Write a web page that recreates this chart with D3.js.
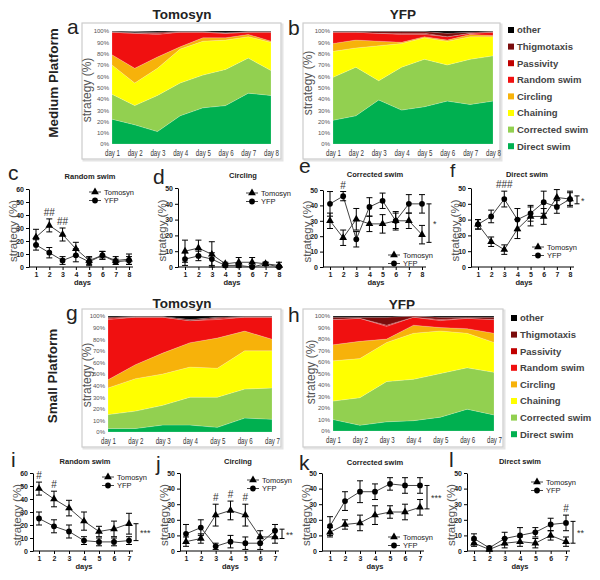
<!DOCTYPE html>
<html>
<head>
<meta charset="UTF-8">
<title>Search strategies</title>
<script src="https://d3js.org/d3.v7.min.js"></script>
<style>
  body { margin: 0; background: #fff; }
  svg { display: block; font-family: "Liberation Sans", Arial, sans-serif; }
</style>
</head>
<body>
<svg id="chart" width="600" height="580"></svg>
<script>
// ---- data ----
const strategies = ["Direct swim", "Corrected swim", "Chaining", "Circling", "Random swim", "Passivity", "Thigmotaxis", "other"];
const stratColors = ["#00b050", "#92d050", "#ffff00", "#f7b20a", "#f01010", "#c00000", "#7a0c0c", "#000000"];

const daysMed = ["day 1", "day 2", "day 3", "day 4", "day 5", "day 6", "day 7", "day 8"];
const daysSmall = ["day 1", "day 2", "day 3", "day 4", "day 5", "day 6", "day 7"];

// stacked percentages, one row per strategy (same order as strategies)
const areaA = [
  [22, 17, 11, 25, 32, 34, 45, 43],
  [22, 17, 32, 29, 29, 32, 31, 22],
  [26, 20, 24, 30, 30, 26, 19, 25],
  [9, 13, 10, 2, 3, 2, 2, 1],
  [20, 31, 20, 13, 5, 4, 2, 8],
  [0, 0, 1, 0, 0, 0, 0, 0],
  [0.5, 0.5, 1, 0.5, 0.5, 0.5, 0.5, 0.5],
  [0.5, 1, 1, 0.5, 0.5, 1.5, 0.5, 0.5]
];
const areaB = [
  [21, 25, 39, 30, 33, 38, 35, 38],
  [38, 43, 17, 38, 42, 32, 40, 40],
  [23, 17, 31, 21, 19, 21, 20, 17],
  [7, 7, 4, 1, 1, 1, 2, 1],
  [10, 7, 7, 7, 2, 3, 1, 3],
  [0, 0, 0, 1, 1, 0, 0, 0],
  [0.5, 0.5, 1.5, 1.5, 1.5, 3, 1, 0.5],
  [0.5, 0.5, 0.5, 0.5, 0.5, 2, 1, 0.5]
];
const areaG = [
  [3, 3, 6, 6, 4, 12, 11],
  [12, 15, 17, 24, 26, 25, 27],
  [23, 28, 27, 26, 25, 33, 32],
  [7, 12, 18, 21, 26, 17, 10],
  [52, 41, 31, 19, 16, 12, 19],
  [1, 0, 0, 0, 1, 0, 0],
  [1, 0.5, 0.5, 1, 1, 0.5, 0.5],
  [1, 0.5, 0.5, 3, 1, 0.5, 0.5]
];
const areaH = [
  [10, 5, 8, 9, 12, 19, 14],
  [16, 24, 35, 36, 38, 36, 37],
  [35, 34, 34, 40, 37, 30, 26],
  [14, 15, 3, 7, 3, 4, 8],
  [22, 20, 11, 7, 6, 9, 12],
  [0, 0, 1, 0, 1, 0, 0],
  [2, 1, 7, 1, 2, 1, 2],
  [1, 1, 1, 0, 1, 1, 1]
];

// line panels: mean and error (strategy %)
const dayNumMed = [1, 2, 3, 4, 5, 6, 7, 8];
const dayNumSmall = [1, 2, 3, 4, 5, 6, 7];

const cTomo = [23, 32, 25, 14, 5, 9, 5, 6], cTomoErr = [6, 5, 5, 5, 3, 3, 3, 4];
const cYfp = [17, 11, 5, 9, 4, 9, 4, 5], cYfpErr = [4, 4, 3, 5, 3, 3, 2, 3];
const cHash = ["", "##", "##", "", "", "", "", ""];

const dTomo = [10, 12, 8, 2, 3, 3, 2, 1], dTomoErr = [7, 5, 8, 1, 3, 3, 1, 2];
const dYfp = [5, 7, 5, 1, 1, 0, 2, 0], dYfpErr = [4, 3, 4, 1, 1, 1, 1, 1];
const dHash = ["", "", "", "", "", "", "", ""];

const eTomo = [30, 19, 31, 28, 28, 30, 30, 21], eTomoErr = [5, 5, 7, 5, 6, 5, 5, 6];
const eYfp = [41, 46, 18, 39, 43, 30, 41, 41], eYfpErr = [8, 3, 5, 6, 5, 6, 6, 6];
const eHash = ["", "#", "", "", "", "", "", ""];
const eSig = [41, 16], eSigLabel = "*";

const fTomo = [27, 16, 11, 24, 32, 32, 44, 43], fTomoErr = [3, 3, 3, 6, 6, 5, 5, 5];
const fYfp = [27, 32, 43, 30, 34, 41, 38, 43], fYfpErr = [3, 4, 5, 7, 5, 7, 4, 4];
const fHash = ["", "", "###", "", "", "", "", ""];
const fSig = [45, 40], fSigLabel = "*";

const iTomo = [48, 40, 33, 23, 15, 17, 21], iTomoErr = [5, 6, 6, 7, 4, 6, 8];
const iYfp = [25, 19, 15, 8, 7, 7, 8], iYfpErr = [5, 5, 5, 3, 3, 3, 3];
const iHash = ["#", "#", "", "", "", "", ""];
const iSig = [21, 8], iSigLabel = "***";

const jTomo = [6, 8, 23, 26, 23, 9, 9], jTomoErr = [3, 3, 7, 6, 7, 4, 4];
const jYfp = [11, 15, 3, 6, 5, 5, 13], jYfpErr = [6, 5, 2, 4, 4, 4, 4];
const jHash = ["", "", "#", "#", "#", "", ""];
const jSig = [14, 8], jSigLabel = "**";

const kTomo = [12, 17, 18, 23, 25, 25, 28], kTomoErr = [3, 3, 5, 6, 4, 5, 5];
const kYfp = [16, 32, 38, 38, 43, 42, 42], kYfpErr = [6, 6, 7, 5, 4, 5, 5];
const kHash = ["", "", "", "", "", "", ""];
const kSig = [42, 27], kSigLabel = "***";

const lTomo = [5, 1, 5, 6, 5, 10, 6], lTomoErr = [2, 1, 3, 3, 3, 3, 3];
const lYfp = [8, 2, 8, 10, 12, 17, 18], lYfpErr = [3, 1, 4, 5, 3, 4, 5];
const lHash = ["", "", "", "", "", "", "#"];
const lSig = [19, 5], lSigLabel = "**";

const seriesNames = ["Tomosyn", "YFP"];

// ---- drawing ----
const svg = d3.select("#chart");

function areaPanel(o) {
  const g = svg.append("g");
  // frame with a soft shadow
  g.append("rect")
    .attr("x", o.fx0 + 1.5).attr("y", o.fy0 + 1.5)
    .attr("width", o.fx1 - o.fx0).attr("height", o.fy1 - o.fy0)
    .attr("fill", "none").attr("stroke", "#e4e4e4").attr("stroke-width", 2);
  g.append("rect")
    .attr("x", o.fx0).attr("y", o.fy0)
    .attr("width", o.fx1 - o.fx0).attr("height", o.fy1 - o.fy0)
    .attr("fill", "#fff").attr("stroke", "#cccccc").attr("stroke-width", 1.2);

  const x = d3.scalePoint().domain(o.days).range([o.x0, o.x1]);
  const y = d3.scaleLinear().domain([0, 100]).range([o.y1, o.y0]);

  const rows = o.days.map((d, i) => {
    const r = { day: d };
    strategies.forEach((s, k) => r[s] = o.vals[k][i]);
    return r;
  });
  const stacked = d3.stack().keys(strategies)(rows);
  const area = d3.area()
    .x(d => x(d.data.day))
    .y0(d => y(Math.min(100, d[0])))
    .y1(d => y(Math.min(100, d[1])));

  g.selectAll(".band")
    .data(stacked)
    .join("path")
    .attr("class", "band")
    .attr("d", area)
    .attr("fill", (d, i) => stratColors[i])
    .attr("stroke", "rgba(255,255,255,0.35)")
    .attr("stroke-width", 0.5);

  const yAxis = d3.axisLeft(y).tickValues(d3.range(0, 101, 10)).tickFormat(d => d + "%").tickSize(0).tickPadding(3);
  g.append("g")
    .attr("transform", "translate(" + o.x0 + ",0)")
    .call(yAxis)
    .call(a => a.select(".domain").remove())
    .selectAll("text")
    .attr("font-size", 6).attr("fill", "#555").attr("font-family", "Liberation Sans, sans-serif");

  // condensed day labels
  const xAxis = d3.axisBottom(x).tickSize(0).tickPadding(0);
  g.append("g")
    .attr("transform", "translate(0," + (o.y1 + 6) + ")")
    .call(xAxis)
    .call(a => a.select(".domain").remove())
    .selectAll("text")
    .attr("font-size", 8.5).attr("fill", "#333")
    .attr("textLength", 15).attr("lengthAdjust", "spacingAndGlyphs");

  g.append("text")
    .attr("transform", "translate(" + o.ylx + "," + o.yly + ") rotate(-90)")
    .attr("text-anchor", "middle").attr("font-size", 12).attr("fill", "#555")
    .text("strategy (%)");

  svg.append("text").attr("x", o.tx).attr("y", o.ty)
    .attr("text-anchor", "middle").attr("font-size", 13.5).attr("font-weight", "bold").attr("fill", "#222")
    .text(o.title);
  svg.append("text").attr("x", o.lx).attr("y", o.ly)
    .attr("font-size", 21).attr("fill", "#222").text(o.letter);
}

function legendBlock(x0, yStart) {
  const items = strategies.slice().reverse();
  const cols = stratColors.slice().reverse();
  const lg = svg.append("g");
  items.forEach((s, i) => {
    const yy = yStart + i * 16.6;
    lg.append("rect").attr("x", x0).attr("y", yy - 3).attr("width", 6).attr("height", 6).attr("fill", cols[i]);
    lg.append("text").attr("x", x0 + 9).attr("y", yy + 3.3)
      .attr("font-size", 9.5).attr("font-weight", "bold").attr("fill", "#444").text(s);
  });
}

function linePanel(o) {
  const g = svg.append("g");
  const n = o.days.length;
  const x = d3.scaleLinear().domain([1, n]).range([o.x0, o.x1]);
  const y = d3.scaleLinear().domain([0, o.yMax]).range([o.yb, o.yt]);

  g.append("g")
    .attr("transform", "translate(" + o.ax + ",0)")
    .call(d3.axisLeft(y).tickValues(d3.range(0, o.yMax + 1, 10)).tickSize(3).tickSizeOuter(0).tickPadding(2))
    .call(a => a.selectAll("text").attr("font-size", 7).attr("font-weight", "bold").attr("fill", "#222"));

  g.append("g")
    .attr("transform", "translate(0," + o.yb + ")")
    .call(d3.axisBottom(x).tickValues(o.days).tickFormat(d3.format("d")).tickSize(3).tickPadding(2))
    .call(a => a.select(".domain").remove())
    .call(a => a.selectAll("text").attr("font-size", 7).attr("font-weight", "bold").attr("fill", "#222"));
  g.append("line")
    .attr("x1", o.ax).attr("x2", o.x1 + 4).attr("y1", o.yb).attr("y2", o.yb)
    .attr("stroke", "#000");

  const series = [
    { v: o.tomo, e: o.tomoErr, sym: d3.symbolTriangle, size: 26 },
    { v: o.yfp, e: o.yfpErr, sym: d3.symbolCircle, size: 26 }
  ];
  const line = d3.line().x((d, i) => x(o.days[i])).y(d => y(d));

  series.forEach(s => {
    g.append("path").datum(s.v).attr("d", line)
      .attr("fill", "none").attr("stroke", "#444").attr("stroke-width", 1);
    s.v.forEach((v, i) => {
      const cx = x(o.days[i]);
      const lo = y(Math.max(0, v - s.e[i])), hi = y(v + s.e[i]);
      g.append("line").attr("x1", cx).attr("x2", cx).attr("y1", lo).attr("y2", hi).attr("stroke", "#000");
      [lo, hi].forEach(yy => g.append("line")
        .attr("x1", cx - 3).attr("x2", cx + 3).attr("y1", yy).attr("y2", yy).attr("stroke", "#000"));
      g.append("path").attr("d", d3.symbol(s.sym, s.size)())
        .attr("transform", "translate(" + cx + "," + y(v) + ")").attr("fill", "#000");
    });
  });

  // # marks above the higher error bar
  o.hash.forEach((h, i) => {
    if (!h) return;
    const top = Math.max(o.tomo[i] + o.tomoErr[i], o.yfp[i] + o.yfpErr[i]);
    g.append("text").attr("x", x(o.days[i])).attr("y", y(top) - 3)
      .attr("text-anchor", "middle").attr("font-size", 10).attr("fill", "#333").text(h);
  });

  // significance bracket after last day
  if (o.sig) {
    const bx = x(o.days[n - 1]) + 7;
    const ya = y(o.sig[0]), yb2 = y(o.sig[1]);
    g.append("line").attr("x1", bx).attr("x2", bx).attr("y1", ya).attr("y2", yb2).attr("stroke", "#000");
    [ya, yb2].forEach(yy => g.append("line")
      .attr("x1", bx - 2.5).attr("x2", bx + 2.5).attr("y1", yy).attr("y2", yy).attr("stroke", "#000"));
    g.append("text").attr("x", bx + 4).attr("y", (ya + yb2) / 2 + 4)
      .attr("font-size", 9).attr("fill", "#333").text(o.sigLabel);
  }

  // legend
  series.forEach((s, k) => {
    const yy = o.legY + k * 8.5;
    g.append("line").attr("x1", o.legX - 6).attr("x2", o.legX + 6).attr("y1", yy).attr("y2", yy)
      .attr("stroke", "#444");
    g.append("path").attr("d", d3.symbol(s.sym, s.size)())
      .attr("transform", "translate(" + o.legX + "," + yy + ")").attr("fill", "#000");
    g.append("text").attr("x", o.legX + 9).attr("y", yy + 2.8)
      .attr("font-size", 7.5).attr("fill", "#222").text(seriesNames[k]);
  });

  g.append("text").attr("x", o.tx).attr("y", o.ty)
    .attr("text-anchor", "middle").attr("font-size", 7.5).attr("font-weight", "bold").attr("fill", "#222")
    .text(o.title);
  g.append("text").attr("x", (o.x0 + o.x1) / 2).attr("y", o.yb + 18)
    .attr("text-anchor", "middle").attr("font-size", 7.5).attr("font-weight", "bold").attr("fill", "#222")
    .text("days");
  g.append("text")
    .attr("transform", "translate(" + (o.ax - 12) + "," + ((o.yt + o.yb) / 2 + 3) + ") rotate(-90)")
    .attr("text-anchor", "middle").attr("font-size", 11.5).attr("fill", "#555")
    .text("strategy (%)");
  svg.append("text").attr("x", o.lx).attr("y", o.ly)
    .attr("font-size", o.lsize || 21).attr("fill", "#222").text(o.letter);
}

// row labels
svg.append("text").attr("transform", "translate(58,83) rotate(-90)")
  .attr("text-anchor", "middle").attr("font-size", 13.5).attr("font-weight", "bold").attr("fill", "#222")
  .text("Medium Platform");
svg.append("text").attr("transform", "translate(57,376) rotate(-90)")
  .attr("text-anchor", "middle").attr("font-size", 13.5).attr("font-weight", "bold").attr("fill", "#222")
  .text("Small Platform");

areaPanel({ vals: areaA, days: daysMed, fx0: 82, fy0: 23, fx1: 281, fy1: 159, x0: 112, x1: 271, y0: 31, y1: 144,
  ylx: 91, yly: 90, title: "Tomosyn", tx: 182, ty: 19, letter: "a", lx: 67, ly: 34 });
areaPanel({ vals: areaB, days: daysMed, fx0: 303, fy0: 23, fx1: 500, fy1: 159, x0: 333, x1: 493, y0: 31, y1: 144,
  ylx: 312, yly: 83, title: "YFP", tx: 403, ty: 19, letter: "b", lx: 288, ly: 35 });
areaPanel({ vals: areaG, days: daysSmall, fx0: 82, fy0: 309, fx1: 281, fy1: 447, x0: 108, x1: 272, y0: 316, y1: 432,
  ylx: 91, yly: 375, title: "Tomosyn", tx: 182, ty: 308, letter: "g", lx: 66, ly: 320 });
areaPanel({ vals: areaH, days: daysSmall, fx0: 303, fy0: 309, fx1: 503, fy1: 447, x0: 333, x1: 494, y0: 316, y1: 431,
  ylx: 315, yly: 372, title: "YFP", tx: 402, ty: 309, letter: "h", lx: 288, ly: 322 });

legendBlock(508, 30);
legendBlock(511, 318);

linePanel({ days: dayNumMed, tomo: cTomo, tomoErr: cTomoErr, yfp: cYfp, yfpErr: cYfpErr, hash: cHash, sig: null,
  yMax: 60, ax: 29, x0: 36, x1: 129, yt: 189, yb: 267, legX: 95, legY: 192,
  title: "Random swim", tx: 90, ty: 179, letter: "c", lx: 8, ly: 180 });
linePanel({ days: dayNumMed, tomo: dTomo, tomoErr: dTomoErr, yfp: dYfp, yfpErr: dYfpErr, hash: dHash, sig: null,
  yMax: 50, ax: 178, x0: 185, x1: 279, yt: 188, yb: 267, legX: 252, legY: 193,
  title: "Circling", tx: 243, ty: 178, letter: "d", lx: 153, ly: 184 });
linePanel({ days: dayNumMed, tomo: eTomo, tomoErr: eTomoErr, yfp: eYfp, yfpErr: eYfpErr, hash: eHash,
  sig: eSig, sigLabel: eSigLabel,
  yMax: 50, ax: 323, x0: 330, x1: 422, yt: 190, yb: 267, legX: 394, legY: 255,
  title: "Corrected swim", tx: 375, ty: 177, letter: "e", lx: 299, ly: 173 });
linePanel({ days: dayNumMed, tomo: fTomo, tomoErr: fTomoErr, yfp: fYfp, yfpErr: fYfpErr, hash: fHash,
  sig: fSig, sigLabel: fSigLabel,
  yMax: 50, ax: 471, x0: 478, x1: 570, yt: 188, yb: 267, legX: 538, legY: 247,
  title: "Direct swim", tx: 527, ty: 177, letter: "f", lx: 450, ly: 177, lsize: 19 });

linePanel({ days: dayNumSmall, tomo: iTomo, tomoErr: iTomoErr, yfp: iYfp, yfpErr: iYfpErr, hash: iHash,
  sig: iSig, sigLabel: iSigLabel,
  yMax: 60, ax: 33, x0: 39, x1: 129, yt: 473, yb: 551, legX: 108, legY: 477,
  title: "Random swim", tx: 85, ty: 464, letter: "i", lx: 11, ly: 467 });
linePanel({ days: dayNumSmall, tomo: jTomo, tomoErr: jTomoErr, yfp: jYfp, yfpErr: jYfpErr, hash: jHash,
  sig: jSig, sigLabel: jSigLabel,
  yMax: 50, ax: 180, x0: 186, x1: 275, yt: 473, yb: 551, legX: 253, legY: 480,
  title: "Circling", tx: 238, ty: 464, letter: "j", lx: 156, ly: 471 });
linePanel({ days: dayNumSmall, tomo: kTomo, tomoErr: kTomoErr, yfp: kYfp, yfpErr: kYfpErr, hash: kHash,
  sig: kSig, sigLabel: kSigLabel,
  yMax: 50, ax: 322, x0: 330, x1: 420, yt: 473, yb: 551, legX: 394, legY: 537,
  title: "Corrected swim", tx: 375, ty: 465, letter: "k", lx: 299, ly: 470 });
linePanel({ days: dayNumSmall, tomo: lTomo, tomoErr: lTomoErr, yfp: lYfp, yfpErr: lYfpErr, hash: lHash,
  sig: lSig, sigLabel: lSigLabel,
  yMax: 50, ax: 467, x0: 474, x1: 566, yt: 473, yb: 551, legX: 537, legY: 482,
  title: "Direct swim", tx: 520, ty: 464, letter: "l", lx: 449, ly: 467 });
</script>
</body>
</html>
